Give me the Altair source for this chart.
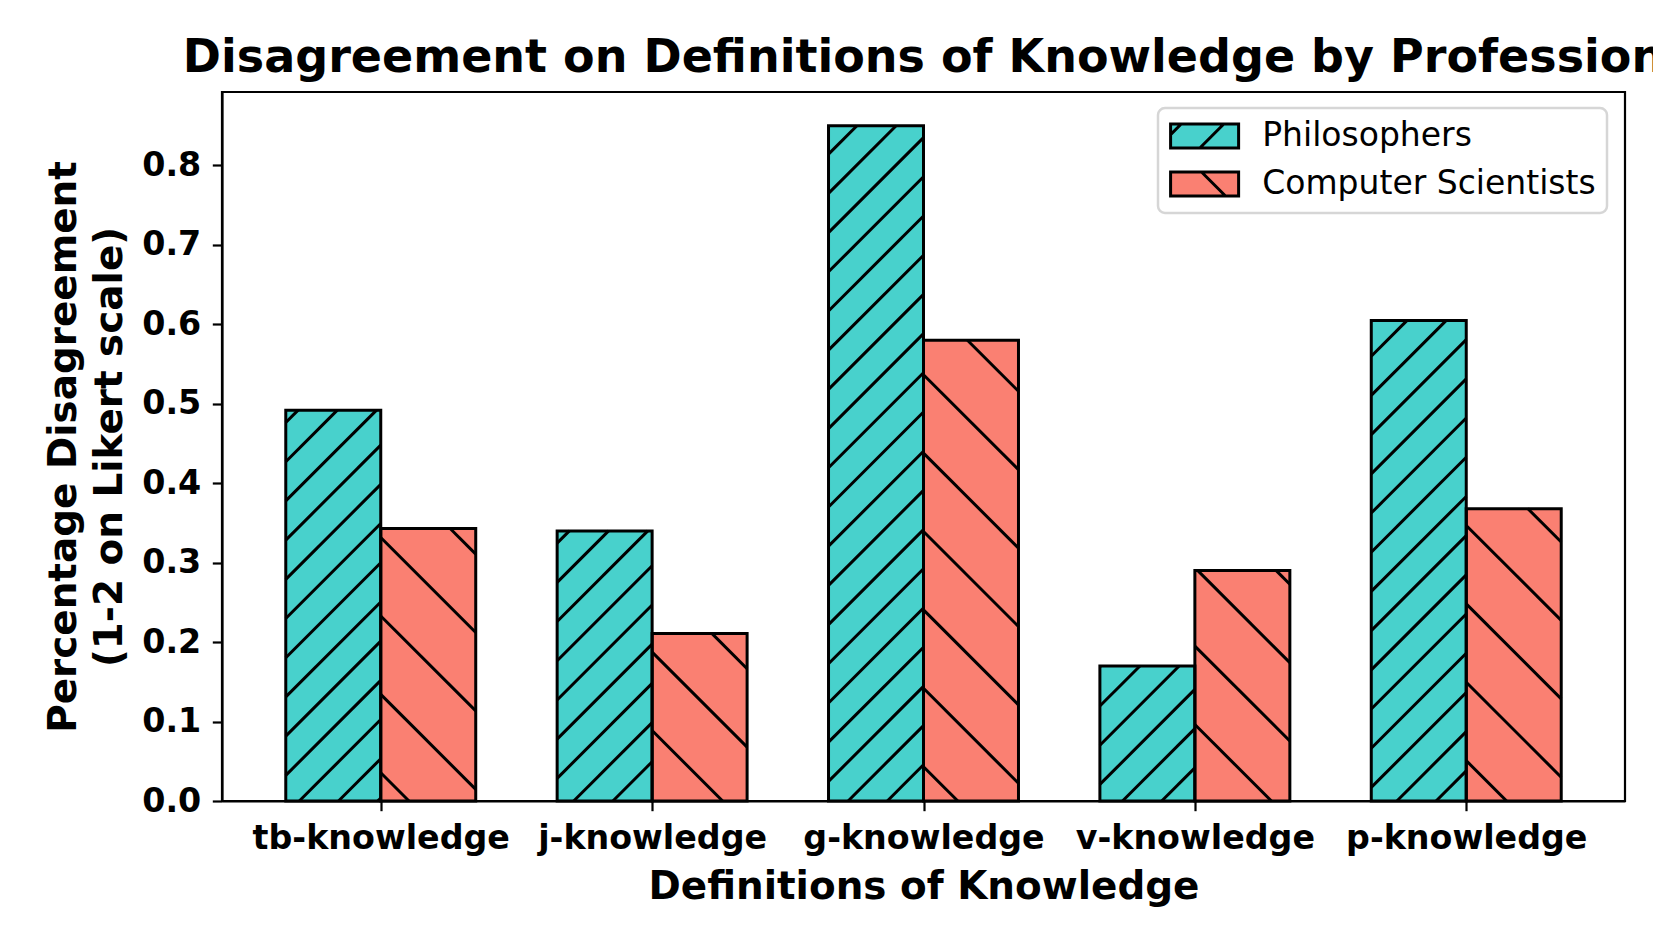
import math
import altair as alt
import pandas as pd

# ---------------- data ----------------
categories = ["tb-knowledge", "j-knowledge", "g-knowledge", "v-knowledge", "p-knowledge"]
philosophers = [0.492, 0.340, 0.850, 0.170, 0.605]
computer_scientists = [0.343, 0.211, 0.580, 0.290, 0.368]
groups = ["Philosophers", "Computer Scientists"]
colors = ["#48D1CC", "#FA8072"]

# ---------------- layout constants ----------------
BAR_W = 0.35
X_MIN, X_MAX = -0.585, 4.585
Y_MAX = 0.8925
W, H = 1403, 709
PAD_L, PAD_T, PAD_R, PAD_B = 214, 84, 28, 130
L = 8 + PAD_L
T = 8 + PAD_T

FONT = "DejaVu Sans"

# ---------------- bar table ----------------
rows = []
for i, cat in enumerate(categories):
    rows.append(dict(cat=cat, group=groups[0], x0=i - BAR_W, x1=i, xc=i - BAR_W / 2,
                     value=philosophers[i], base=0.0, mid=philosophers[i] / 2))
    rows.append(dict(cat=cat, group=groups[1], x0=i, x1=i + BAR_W, xc=i + BAR_W / 2,
                     value=computer_scientists[i], base=0.0, mid=computer_scientists[i] / 2))
bars = pd.DataFrame(rows)


# ---------------- hatch segments (derived from the bars) ----------------
def px_x(xd):
    return L + (xd - X_MIN) / (X_MAX - X_MIN) * W


def px_y(yd):
    return T + H * (1 - yd / Y_MAX)


def d_x(px):
    return X_MIN + (px - L) / W * (X_MAX - X_MIN)


def d_y(py):
    return (T + H - py) / H * Y_MAX


hatch_rows = []
for r in rows:
    a0, a1 = px_x(r["x0"]), px_x(r["x1"])
    b0, b1 = px_y(r["value"]), px_y(0.0)
    if r["group"] == groups[0]:
        s, ph = 39.2, 2.7  # "/" lines: x + y = c
        cmin, cmax = a0 + b0, a1 + b1
        for k in range(math.ceil((cmin - ph) / s), math.floor((cmax - ph) / s) + 1):
            c = ph + k * s
            xa, xb = max(a0, c - b1), min(a1, c - b0)
            if xb - xa > 0.5:
                hatch_rows.append(dict(hx0=d_x(xa), hy0=d_y(c - xa), hx1=d_x(xb), hy1=d_y(c - xb)))
    else:
        s, ph = 78.4, 0.0  # "\" lines: x - y = c
        cmin, cmax = a0 - b1, a1 - b0
        for k in range(math.ceil((cmin - ph) / s), math.floor((cmax - ph) / s) + 1):
            c = ph + k * s
            xa, xb = max(a0, c + b0), min(a1, c + b1)
            if xb - xa > 0.5:
                hatch_rows.append(dict(hx0=d_x(xa), hy0=d_y(xa - c), hx1=d_x(xb), hy1=d_y(xb - c)))
hatch = pd.DataFrame(hatch_rows)

# ---------------- legend swatch shapes (hatched rectangles) ----------------
SYM_SIZE = 949  # sqrt = 30.8 -> path unit = 15.4 px
PHIL_PATH = ("M-2.208,-0.779H2.208V0.779H-2.208Z "
             "M-0.31,0.779L1.247,-0.779 M-2.208,-0.09L-1.518,-0.779")
CS_PATH = ("M-2.208,-0.779H2.208V0.779H-2.208Z "
           "M-0.199,-0.779L1.358,0.779")

x_scale = alt.Scale(domain=[X_MIN, X_MAX], nice=False, zero=False)
y_scale = alt.Scale(domain=[0, Y_MAX], nice=False, zero=False)

label_expr = "[" + ",".join("'" + c + "'" for c in categories) + "][datum.value]"

X_TITLE = "Definitions of Knowledge"
Y_TITLE = ["Percentage Disagreement", "(1-2 on Likert scale)"]

x_axis = alt.Axis(
    values=list(range(len(categories))),
    labelExpr=label_expr,
    title=X_TITLE,
    grid=False,
    labelFont=FONT, labelFontSize=33.3, labelFontWeight="bold", labelColor="black",
    labelPadding=12, labelFlush=False, labelOverlap=False, labelBound=False, labelLimit=500,
    titleFont=FONT, titleFontSize=38.9, titleFontWeight="bold", titleColor="black",
    titleBaseline="alphabetic", titleAlign="center", titleX=W / 2, titleY=97,
    tickSize=9.7, tickWidth=2.2, tickColor="black",
    domainColor="black", domainWidth=2.2,
)
y_axis = alt.Axis(
    values=[0, 0.1, 0.2, 0.3, 0.4, 0.5, 0.6, 0.7, 0.8],
    format=".1f",
    title=Y_TITLE,
    grid=False,
    labelFont=FONT, labelFontSize=33.3, labelFontWeight="bold", labelColor="black",
    labelPadding=11.5, labelFlush=False, labelOverlap=False,
    titleFont=FONT, titleFontSize=38.9, titleFontWeight="bold", titleColor="black",
    titleAngle=270, titleAlign="center", titleBaseline="alphabetic",
    titleX=-147, titleY=H / 2, titleLineHeight=46.7,
    tickSize=9.7, tickWidth=2.2, tickColor="black",
    domainColor="black", domainWidth=2.2,
)

legend = alt.Legend(
    title=None,
    orient="none",
    legendX=936,
    legendY=16,
    padding=11,
    cornerRadius=7,
    strokeColor="#d6d6d6",
    fillColor="white",
    labelFont=FONT, labelFontSize=33, labelColor="black", labelLimit=600,
    labelOffset=40.6,
    symbolOffset=18.6,
    rowPadding=12,
    symbolSize=SYM_SIZE,
    symbolStrokeWidth=3,
    symbolOpacity=1,
)

color_scale = alt.Scale(domain=groups, range=colors)
shape_scale = alt.Scale(domain=groups, range=[PHIL_PATH, CS_PATH])

# points that carry the legend swatches; drawn first, hidden behind the bars
legend_layer = alt.Chart(bars).mark_point(
    filled=False, opacity=1, size=SYM_SIZE, stroke="black", strokeWidth=3
).encode(
    x=alt.X("xc:Q", scale=x_scale, axis=x_axis),
    y=alt.Y("mid:Q", scale=y_scale, axis=y_axis),
    fill=alt.Fill("group:N", scale=color_scale, legend=legend),
    shape=alt.Shape("group:N", scale=shape_scale, legend=legend),
)

fill_layer = alt.Chart(bars).mark_rect(opacity=1).encode(
    x=alt.X("x0:Q", scale=x_scale, axis=x_axis),
    x2="x1:Q",
    y=alt.Y("value:Q", scale=y_scale, axis=y_axis),
    y2="base:Q",
    color=alt.Color("group:N", scale=color_scale, legend=None),
)

hatch_layer = alt.Chart(hatch).mark_rule(color="black", strokeWidth=3).encode(
    x=alt.X("hx0:Q", scale=x_scale, axis=x_axis),
    x2="hx1:Q",
    y=alt.Y("hy0:Q", scale=y_scale, axis=y_axis),
    y2="hy1:Q",
)

outline_layer = alt.Chart(bars).mark_rect(fillOpacity=0, stroke="black", strokeWidth=3).encode(
    x=alt.X("x0:Q", scale=x_scale, axis=x_axis),
    x2="x1:Q",
    y=alt.Y("value:Q", scale=y_scale, axis=y_axis),
    y2="base:Q",
)

chart = (
    alt.layer(legend_layer, fill_layer, hatch_layer, outline_layer)
    .properties(
        width=W,
        height=H,
        autosize=alt.AutoSizeParams(type="none"),
        padding={"left": PAD_L, "top": PAD_T, "right": PAD_R, "bottom": PAD_B},
        background="white",
        title=alt.TitleParams(
            text="Disagreement on Definitions of Knowledge by Profession",
            font=FONT, fontSize=46, fontWeight="bold", color="black",
            anchor="middle", frame="group", offset=10,
        ),
    )
    .configure_view(stroke="black", strokeWidth=2.2)
    .configure_legend(strokeWidth=2.5)
)

chart.save("out.html", embed_options={"renderer": "svg", "actions": False})
